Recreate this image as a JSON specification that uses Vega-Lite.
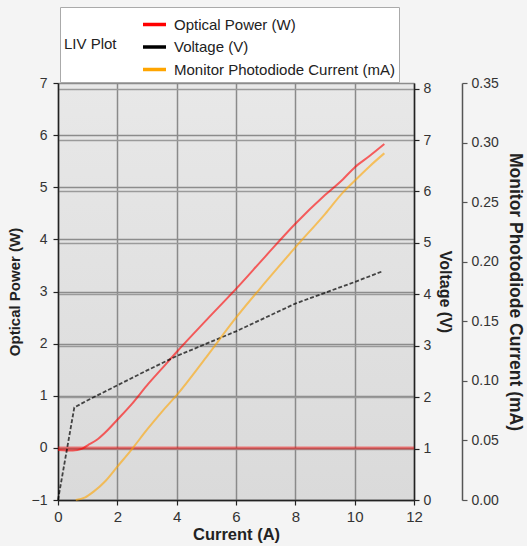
{
  "$schema": "https://vega.github.io/schema/vega-lite/v6.json",
  "width": 356,
  "height": 417,
  "autosize": {"type": "none"},
  "padding": {"left": 58, "top": 83, "right": 113, "bottom": 46},
  "background": "#f4f4f4",
  "config": {
    "font": "Liberation Sans",
    "view": {
      "stroke": null,
      "fill": {
        "gradient": "linear", "x1": 0, "y1": 0, "x2": 0, "y2": 1,
        "stops": [{"offset": 0, "color": "#e8e8e8"}, {"offset": 1, "color": "#dadada"}]
      }
    },
    "axis": {
      "labelFont": "Liberation Sans", "labelFontSize": 14, "labelColor": "#333", "labelFlush": false,
      "titleFont": "Liberation Sans", "titleFontWeight": "bold", "titleColor": "#222",
      "domainColor": "#222", "domainWidth": 1.5, "tickColor": "#222", "tickSize": 5, "tickWidth": 1.2
    },
    "legend": {
      "labelFont": "Liberation Sans", "titleFont": "Liberation Sans"
    }
  },
  "datasets": {
    "optical": [
      {"I": 0, "P": -0.04}, {"I": 0.5, "P": -0.05}, {"I": 0.8, "P": -0.02}, {"I": 1.0, "P": 0.05},
      {"I": 1.3, "P": 0.15}, {"I": 1.6, "P": 0.3}, {"I": 2.0, "P": 0.54}, {"I": 2.5, "P": 0.85},
      {"I": 3.0, "P": 1.2}, {"I": 3.5, "P": 1.52}, {"I": 4.0, "P": 1.84}, {"I": 5.0, "P": 2.45},
      {"I": 6.0, "P": 3.05}, {"I": 7.0, "P": 3.68}, {"I": 8.0, "P": 4.3}, {"I": 9.0, "P": 4.85},
      {"I": 9.6, "P": 5.15}, {"I": 10.0, "P": 5.38}, {"I": 10.5, "P": 5.6}, {"I": 11.0, "P": 5.83}
    ],
    "voltage": [
      {"I": 0, "V": 0}, {"I": 0.55, "V": 1.8}, {"I": 1, "V": 1.94}, {"I": 2, "V": 2.23},
      {"I": 3, "V": 2.52}, {"I": 4, "V": 2.8}, {"I": 5, "V": 3.04}, {"I": 6, "V": 3.28},
      {"I": 7, "V": 3.55}, {"I": 8, "V": 3.82}, {"I": 9, "V": 4.03}, {"I": 10, "V": 4.24},
      {"I": 10.95, "V": 4.45}
    ],
    "monitor": [
      {"I": 0.6, "M": 0}, {"I": 0.9, "M": 0.002}, {"I": 1.2, "M": 0.007}, {"I": 1.6, "M": 0.016},
      {"I": 2, "M": 0.028}, {"I": 2.5, "M": 0.043}, {"I": 3, "M": 0.059}, {"I": 3.5, "M": 0.074},
      {"I": 4, "M": 0.088}, {"I": 5, "M": 0.12}, {"I": 6, "M": 0.153}, {"I": 7, "M": 0.183},
      {"I": 8, "M": 0.212}, {"I": 9, "M": 0.24}, {"I": 9.6, "M": 0.258}, {"I": 10, "M": 0.268},
      {"I": 10.5, "M": 0.28}, {"I": 11, "M": 0.291}
    ],
    "zero": [{"I": 0, "P": 0}, {"I": 12, "P": 0}]
  },
  "layer": [
    {
      "data": {"name": "optical"},
      "mark": {"type": "line", "strokeWidth": 2, "opacity": 0.6, "interpolate": "monotone"},
      "encoding": {
        "x": {
          "field": "I", "type": "quantitative",
          "scale": {"domain": [0, 12], "nice": false},
          "axis": {
            "title": "Current (A)", "values": [0, 2, 4, 6, 8, 10, 12], "grid": true,
            "gridColor": "#8a8a8a", "gridWidth": 1.5, "gridOpacity": 1,
            "labelFontSize": 15, "labelPadding": 4, "titleFontSize": 16.5, "titlePadding": 2
          }
        },
        "y": {
          "field": "P", "type": "quantitative",
          "scale": {"domain": [-1, 7], "nice": false},
          "axis": {
            "orient": "left", "title": "Optical Power (W)", "values": [-1, 0, 1, 2, 3, 4, 5, 6, 7],
            "grid": true, "gridColor": "#8c8c8c", "gridWidth": 1.5, "gridOpacity": 1,
            "labelPadding": 6, "titleFontSize": 15, "titlePadding": 9
          }
        },
        "color": {
          "datum": "Optical Power (W)",
          "scale": {
            "domain": ["Optical Power (W)", "Voltage (V)", "Monitor Photodiode Current (mA)"],
            "range": ["#ff0000", "#000000", "#ffa500"]
          },
          "legend": {
            "orient": "none", "legendX": 2, "legendY": -76,
            "title": "LIV Plot", "titleOrient": "left", "titleAnchor": "middle",
            "titleFontSize": 15, "titleFontWeight": "normal", "titleColor": "#222", "titlePadding": 24,
            "labelFontSize": 15, "labelColor": "#222", "labelOffset": 6, "labelLimit": 400,
            "symbolType": "stroke", "symbolSize": 529, "symbolStrokeWidth": 3.5, "symbolOpacity": 1,
            "rowPadding": 0.5, "padding": 4, "strokeColor": "#aaaaaa", "fillColor": "#ffffff",
            "cornerRadius": 0,
            "encode": {"symbols": {"update": {"strokeDash": {"value": []}, "opacity": {"value": 1}}}}
          }
        }
      }
    },
    {
      "data": {"name": "zero"},
      "mark": {"type": "line", "strokeWidth": 3, "opacity": 0.45, "color": "#ff0000"},
      "encoding": {
        "x": {"field": "I", "type": "quantitative", "scale": {"domain": [0, 12], "nice": false}},
        "y": {"field": "P", "type": "quantitative", "scale": {"domain": [-1, 7], "nice": false}, "axis": null}
      }
    },
    {
      "data": {"name": "voltage"},
      "mark": {"type": "line", "strokeWidth": 1.8, "opacity": 0.7, "strokeDash": [4, 2]},
      "encoding": {
        "x": {"field": "I", "type": "quantitative", "scale": {"domain": [0, 12], "nice": false}},
        "y": {
          "field": "V", "type": "quantitative",
          "scale": {"domain": [0, 8.11], "nice": false},
          "axis": {
            "orient": "right", "title": "Voltage (V)", "values": [0, 1, 2, 3, 4, 5, 6, 7, 8],
            "grid": true, "gridColor": "#9a9a9a", "gridWidth": 1.5, "gridOpacity": 1,
            "labelPadding": 4, "titleFontSize": 16, "titlePadding": 6
          }
        },
        "color": {"datum": "Voltage (V)"}
      }
    },
    {
      "data": {"name": "monitor"},
      "mark": {"type": "line", "strokeWidth": 2, "opacity": 0.6, "interpolate": "monotone"},
      "encoding": {
        "x": {"field": "I", "type": "quantitative", "scale": {"domain": [0, 12], "nice": false}},
        "y": {
          "field": "M", "type": "quantitative",
          "scale": {"domain": [0, 0.35], "nice": false},
          "axis": {
            "orient": "right", "offset": 48, "title": "Monitor Photodiode Current (mA)",
            "values": [0, 0.05, 0.1, 0.15, 0.2, 0.25, 0.3, 0.35], "format": ".2f",
            "grid": false, "domainColor": "#555", "tickColor": "#555",
            "labelPadding": 4, "titleFontSize": 17.5, "titlePadding": 7
          }
        },
        "color": {"datum": "Monitor Photodiode Current (mA)"}
      }
    }
  ],
  "resolve": {"scale": {"y": "independent"}}
}
